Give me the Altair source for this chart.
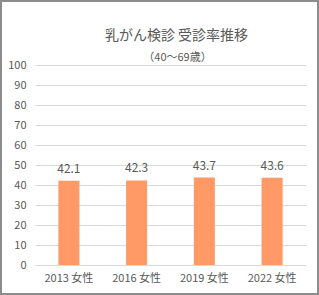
import altair as alt
import pandas as pd

categories = ["2013 女性", "2016 女性", "2019 女性", "2022 女性"]
values = [42.1, 42.3, 43.7, 43.6]
y_ticks = [0, 10, 20, 30, 40, 50, 60, 70, 80, 90, 100]
title_text = "乳がん検診 受診率推移"
subtitle_text = "（40～69歳）"

df = pd.DataFrame({"cat": categories, "val": values})

FONT = "Noto Sans CJK JP"
W, H = 271, 200
PL, PT, PR, PB = 35, 65, 13, 30

x = alt.X("cat:N", sort=categories, title=None,
          scale=alt.Scale(paddingInner=0.0, paddingOuter=0.0),
          axis=alt.Axis(labelAngle=0, labelFontSize=11, labelColor="#595959",
                        labelFont=FONT, domain=False, ticks=False, labelPadding=7))
y = alt.Y("val:Q", title=None, scale=alt.Scale(domain=[0, 100], nice=False),
          axis=alt.Axis(values=y_ticks, labelFontSize=11, labelColor="#595959",
                        labelFont=FONT, domain=False, ticks=False, labelPadding=9,
                        labelOverlap=False, gridColor="#d9d9d9", gridWidth=1))

base = alt.Chart(df).encode(x=x, y=y)
bars = base.mark_bar(size=21, color="#FF9966")
labels = base.mark_text(dy=-12, fontSize=12, color="#595959", font=FONT).encode(
    text=alt.Text("val:Q", format=".1f"))

title_df = pd.DataFrame({"t": [title_text]})
sub_df = pd.DataFrame({"t": [subtitle_text]})
title = alt.Chart(title_df).mark_text(fontSize=14, color="#595959", font=FONT,
                                      baseline="middle", clip=False).encode(
    text="t:N", x=alt.value(W / 2 + 6), y=alt.value(36 - PT))
subtitle = alt.Chart(sub_df).mark_text(fontSize=11, color="#595959", font=FONT,
                                       baseline="middle", clip=False).encode(
    text="t:N", x=alt.value(W / 2 + 7), y=alt.value(58 - PT))

border = alt.Chart(title_df).mark_rect(fill=None, stroke="#8c8c8c", strokeWidth=2, clip=False).encode(
    x=alt.value(-PL + 1), x2=alt.value(W + PR - 1),
    y=alt.value(-PT + 1), y2=alt.value(H + PB - 1))

chart = alt.layer(bars, labels, title, subtitle, border).properties(
    width=W, height=H,
    autosize=alt.AutoSizeParams(type="none"),
    padding={"left": PL, "top": PT, "right": PR, "bottom": PB},
).configure(background="white").configure_view(stroke=None)

chart.save("out.html", embed_options={"renderer": "svg", "actions": False})
